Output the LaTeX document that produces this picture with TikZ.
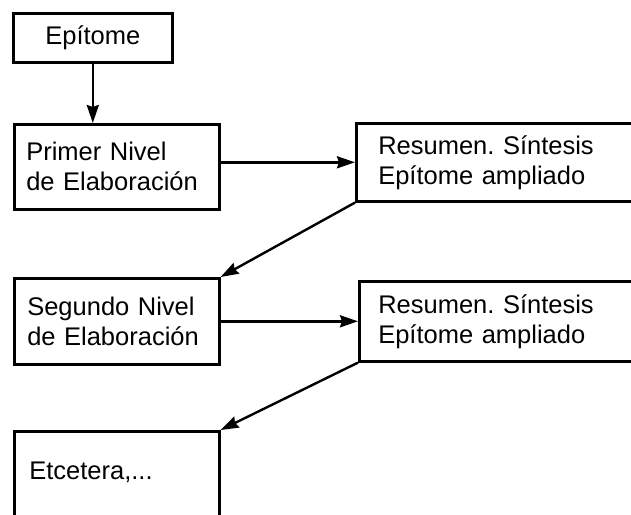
\documentclass[tikz,border=0pt]{standalone}
\usepackage{fontspec}
\setmainfont{Liberation Sans}
\usetikzlibrary{arrows.meta}
\frenchspacing
\begin{document}
\begin{tikzpicture}[x=1pt,y=-1pt,
  box/.style={draw, line width=2.6pt, font=\fontsize{25.5}{30}\selectfont,
    align=left, anchor=north west, inner ysep=0pt},
  arr/.style={line width=2.4pt, -{Stealth[length=18pt,width=12pt,inset=2pt]}}]
\useasboundingbox (0,0) rectangle (631,514);
\fill[white] (0,0) rectangle (631,514);
\clip (0,0) rectangle (631,514);
\node[box, align=center, minimum width=159pt, minimum height=49pt] (ep) at (12,12) {Epítome};
\node[box, inner xsep=12pt, text width=181pt, minimum height=85pt] (p1) at (13,123) {Primer Nivel\\de Elaboración};
\node[box, inner xsep=22pt, text width=300pt, minimum height=78pt] (r1) at (355,122) {Resumen. Síntesis\\Epítome ampliado};
\node[box, inner xsep=13pt, text width=179pt, minimum height=86pt] (s2) at (13,277) {Segundo Nivel\\de Elaboración};
\node[box, inner xsep=19pt, text width=300pt, minimum height=80pt] (r2) at (358,280) {Resumen. Síntesis\\Epítome ampliado};
\node[box, inner xsep=15pt, text width=175pt, text height=48pt, text depth=100pt] (et) at (13,430) {Etcetera,...};
\draw[arr] (ep.south) -- (ep.south |- p1.north);
\draw[arr] (p1.east |- r1.west) -- (r1.west);
\draw[arr] (r1.south west) -- (s2.north east);
\draw[arr] (s2.east) -- (s2.east -| r2.west);
\draw[arr] (r2.south west) -- (et.north east);
\end{tikzpicture}
\end{document}
